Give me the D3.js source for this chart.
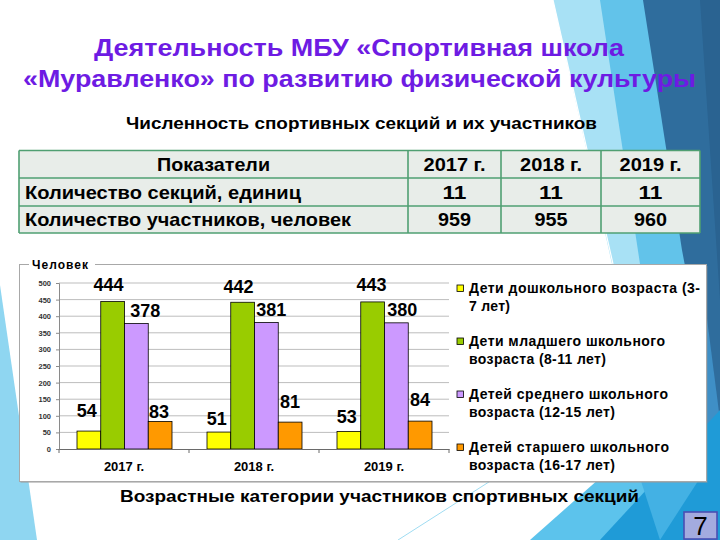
<!DOCTYPE html>
<html><head><meta charset="utf-8">
<script src="https://cdn.jsdelivr.net/npm/d3@7"></script>
<style>html,body{margin:0;padding:0;background:#fff;} svg{display:block;}</style>
</head><body>
<svg id="c" width="720" height="540"></svg>
<script>
// ---------- DATA ----------
const years = ["2017 г.", "2018 г.", "2019 г."];
const preschool = [54, 51, 53];
const junior = [444, 442, 443];
const middle = [378, 381, 380];
const senior = [83, 81, 84];
const seriesNames = ["Дети дошкольного возраста (3-7 лет)", "Дети младшего школьного возраста (8-11 лет)",
  "Детей среднего школьного возраста (12-15 лет)", "Детей старшего школьного возраста (16-17 лет)"];
const legendLines = [["Дети дошкольного возраста (3-", "7 лет)"], ["Дети младшего школьного", "возраста (8-11 лет)"],
  ["Детей среднего школьного", "возраста (12-15 лет)"], ["Детей старшего школьного", "возраста (16-17 лет)"]];
const yTickValues = [0, 50, 100, 150, 200, 250, 300, 350, 400, 450, 500];
const tableHeader = ["Показатели", "2017 г.", "2018 г.", "2019 г."];
const tableRowLabels = ["Количество секций, единиц", "Количество участников, человек"];
const sectionsCount = [11, 11, 11];
const participantsCount = [959, 955, 960];
const titleLines = ["Деятельность МБУ «Спортивная школа", "«Муравленко» по развитию физической культуры"];
const subtitle = "Численность спортивных секций и их участников";
const caption = "Возрастные категории участников спортивных секций";
const yAxisTitle = "Человек";
const pageNumber = "7";

// ---------- STYLE / LAYOUT ----------
const seriesColors = ["#ffff00", "#99cc00", "#cc99ff", "#ff9900"];
const FONT = "'Liberation Sans', Arial, sans-serif";
const NARROW = "'Liberation Sans Narrow', 'Liberation Sans', Arial, sans-serif";
const series = [preschool, junior, middle, senior];

const svg = d3.select("#c");
svg.append("rect").attr("width", 720).attr("height", 540).attr("fill", "#ffffff");

// background facets
const deco = svg.append("g");
const polys = [
  {p: [[0, 285], [0, 540], [37, 540]], c: "#8fd6f1"},
  {p: [[553, 0], [615, 0], [660, 264], [612, 264]], c: "#a8e1f5"},
  {p: [[600, 0], [648, 0], [690, 264], [640, 264]], c: "#62c3ea"},
  {p: [[643, 0], [720, 0], [720, 450], [682, 250]], c: "#2f6d9d"},
  {p: [[700, 0], [720, 0], [720, 300]], c: "#2a6391"},
  {p: [[640, 264], [700, 264], [720, 420], [720, 540]], c: "#3f8fc6"},
  {p: [[530, 540], [600, 478], [650, 478], [700, 540]], c: "#5cc3ec"},
  {p: [[600, 540], [720, 410], [720, 540]], c: "#1f9bd7"},
  {p: [[640, 478], [700, 478], [660, 540]], c: "#43b1e4"}
];
deco.selectAll("polygon").data(polys).join("polygon")
  .attr("points", d => d.p.map(q => q.join(",")).join(" "))
  .attr("fill", d => d.c);
deco.append("line").attr("x1", 553).attr("y1", 0).attr("x2", 613).attr("y2", 264)
  .attr("stroke", "#ffffff").attr("stroke-width", 1.2);
deco.append("line").attr("x1", 398).attr("y1", 540).attr("x2", 492).attr("y2", 480)
  .attr("stroke", "#9fdcf2").attr("stroke-width", 1);

function text(parent, x, y, s, o) {
  const t = parent.append("text").attr("x", x).attr("y", y).text(s)
    .attr("font-family", o.font || FONT).attr("font-size", o.size)
    .attr("font-weight", o.weight || "bold").attr("fill", o.fill || "#000")
    .attr("text-anchor", o.anchor || "start");
  if (o.len) t.attr("textLength", o.len).attr("lengthAdjust", o.adj || "spacingAndGlyphs");
  return t;
}

// title
text(svg, 94, 56, titleLines[0], {size: 24, fill: "#6e1be3", len: 530, font: NARROW});
text(svg, 23, 87, titleLines[1], {size: 24, fill: "#6e1be3", len: 673, font: NARROW});
text(svg, 126, 129, subtitle, {size: 16, len: 471, font: NARROW});

// table
const colEdges = [19, 408, 501, 601, 700];
const rowEdges = [150.5, 178, 206, 233];
const tbl = svg.append("g");
tbl.append("rect").attr("x", colEdges[0]).attr("y", rowEdges[0])
  .attr("width", colEdges[4] - colEdges[0]).attr("height", rowEdges[3] - rowEdges[0])
  .attr("fill", "#e8ede9");
tbl.selectAll("line.h").data(rowEdges).join("line").attr("class", "h")
  .attr("x1", colEdges[0]).attr("x2", colEdges[4]).attr("y1", d => d).attr("y2", d => d)
  .attr("stroke", "#4f9f72").attr("stroke-width", 1.6);
tbl.selectAll("line.v").data(colEdges).join("line").attr("class", "v")
  .attr("y1", rowEdges[0]).attr("y2", rowEdges[3]).attr("x1", d => d).attr("x2", d => d)
  .attr("stroke", "#4f9f72").attr("stroke-width", 1.6);
const colCenter = i => (colEdges[i] + colEdges[i + 1]) / 2;
const rowBase = r => (rowEdges[r] + rowEdges[r + 1]) / 2 + 6.5;
text(tbl, colCenter(0), rowBase(0), tableHeader[0], {size: 19, anchor: "middle", len: 113, font: NARROW});
for (let i = 1; i < 4; i++) text(tbl, colCenter(i), rowBase(0), tableHeader[i], {size: 19, anchor: "middle", len: 62, font: NARROW});
text(tbl, 25, rowBase(1), tableRowLabels[0], {size: 19, len: 276, font: NARROW});
text(tbl, 25, rowBase(2), tableRowLabels[1], {size: 19, len: 326, font: NARROW});
sectionsCount.forEach((v, i) => text(tbl, colCenter(i + 1), rowBase(1), String(v), {size: 19, anchor: "middle", len: 24, font: NARROW}));
participantsCount.forEach((v, i) => text(tbl, colCenter(i + 1), rowBase(2), String(v), {size: 19, anchor: "middle", len: 33, font: NARROW}));

// chart panel
const panel = svg.append("g");
panel.append("rect").attr("x", 20.5).attr("y", 266).attr("width", 687).attr("height", 217).attr("fill", "#9a9a9a").attr("opacity", 0.5);
panel.append("rect").attr("x", 19.5).attr("y", 264.5).attr("width", 687).attr("height", 217)
  .attr("fill", "#ffffff").attr("stroke", "#a8a8a8").attr("stroke-width", 1);
panel.append("rect").attr("x", 29).attr("y", 257).attr("width", 66).attr("height", 13).attr("fill", "#fff");
text(panel, 32, 269, yAxisTitle, {size: 12, len: 56, adj: "spacing"});

const x0 = d3.scaleBand().domain(years).range([59, 449]).paddingInner(0).paddingOuter(0);
const x1 = d3.scaleBand().domain(d3.range(series.length)).range([18, 113]);
const y = d3.scaleLinear().domain([0, 500]).range([449, 283]);

const plot = svg.append("g");
// gridlines
plot.selectAll("line.grid").data(yTickValues.filter(v => v > 0)).join("line").attr("class", "grid")
  .attr("x1", 59).attr("x2", 449).attr("y1", d => y(d)).attr("y2", d => y(d))
  .attr("stroke", "#bdbdbd").attr("stroke-width", 1);

// y axis
const yAxis = plot.append("g").attr("transform", "translate(59,0)")
  .call(d3.axisLeft(y).tickValues(yTickValues).tickSize(3).tickPadding(5));
yAxis.select(".domain").attr("stroke", "#8a8a8a");
yAxis.selectAll(".tick line").attr("stroke", "#8a8a8a");
yAxis.selectAll("text").attr("font-family", FONT).attr("font-size", 7.5).attr("font-weight", "bold").attr("fill", "#333");

// bars
const groups = plot.selectAll("g.grp").data(years).join("g").attr("class", "grp")
  .attr("transform", d => `translate(${x0(d)},0)`);
groups.selectAll("rect").data((d, yi) => series.map((s, si) => ({si, yi, v: s[yi]}))).join("rect")
  .attr("x", d => x1(d.si)).attr("width", x1.bandwidth())
  .attr("y", d => y(d.v)).attr("height", d => y(0) - y(d.v))
  .attr("fill", d => seriesColors[d.si]).attr("stroke", "#000").attr("stroke-width", 0.8);

// value labels (manual nudges as in the original slide)
const labelDy = [[14, 7, 8], [11, 9, 11], [7, 7, 7], [3, 14, 15]];
const labelDx = [[-2, -2, -2], [-4, -4, -1], [9, 5, 6], [-1, 0, 0]];
groups.selectAll("text.val").data((d, yi) => series.map((s, si) => ({si, yi, v: s[yi]}))).join("text").attr("class", "val")
  .attr("x", d => x1(d.si) + x1.bandwidth() / 2 + labelDx[d.si][d.yi])
  .attr("y", d => y(d.v) - labelDy[d.si][d.yi])
  .attr("text-anchor", "middle").attr("font-family", FONT).attr("font-size", 18).attr("font-weight", "bold")
  .attr("fill", "#000").text(d => d.v);

// x axis
const xAxis = plot.append("g").attr("transform", "translate(0,449)")
  .call(d3.axisBottom(x0).tickSize(0).tickPadding(13));
xAxis.select(".domain").attr("stroke", "#6a6a6a");
xAxis.selectAll("text").attr("font-family", FONT).attr("font-size", 13).attr("font-weight", "bold").attr("fill", "#000");
plot.selectAll("line.xt").data(years.map(d => x0(d)).concat([x0.range()[1]])).join("line").attr("class", "xt")
  .attr("x1", d => d).attr("x2", d => d).attr("y1", 449).attr("y2", 453).attr("stroke", "#6a6a6a");

// legend
const lg = svg.append("g");
const legendLen = [[231, 41], [196, 137], [199, 146], [200, 146]];
legendLines.forEach((lines, i) => {
  const base = 293 + i * 53;
  lg.append("rect").attr("x", 457).attr("y", base - 8).attr("width", 6.5).attr("height", 6.5)
    .attr("fill", seriesColors[i]).attr("stroke", "#000").attr("stroke-width", 0.8);
  lines.forEach((ln, j) => text(lg, 469, base + j * 18, ln, {size: 14, len: legendLen[i][j], adj: "spacing"}));
});

// caption
text(svg, 120, 502, caption, {size: 16, len: 519, font: NARROW});

// page number
svg.append("rect").attr("x", 684).attr("y", 512).attr("width", 33).attr("height", 27)
  .attr("fill", "#a3abdf").attr("stroke", "#4a4fb3").attr("stroke-width", 1.6);
svg.append("text").attr("x", 700.5).attr("y", 535).attr("text-anchor", "middle")
  .attr("font-family", FONT).attr("font-size", 26).attr("fill", "#000").text(pageNumber);
</script>
</body></html>
